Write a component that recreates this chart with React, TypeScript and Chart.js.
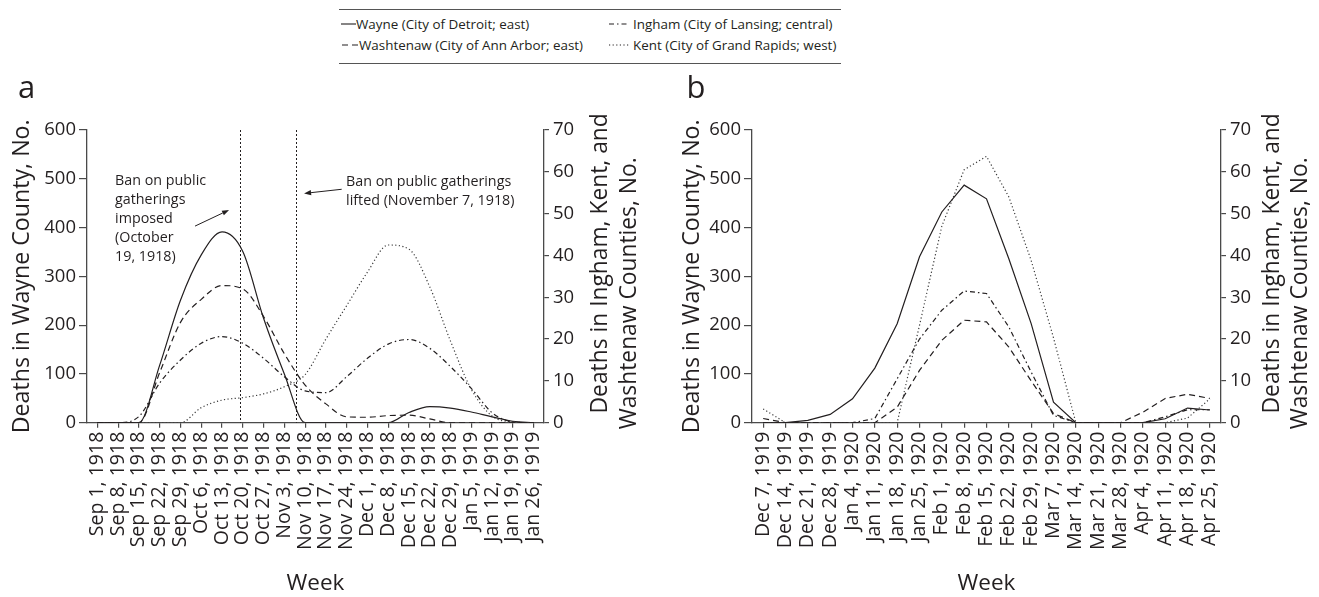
import React, { useEffect, useRef } from 'react';
import { Chart, registerables } from 'chart.js';

Chart.register(...registerables);

const FONT = '"Open Sans", "Noto Sans", sans-serif';
const INK = '#231f20';
const AXIS = '#4a4a4a';

// ---------- Panel a (fall 1918) ----------
const weeksA = ['Sep 1, 1918', 'Sep 8, 1918', 'Sep 15, 1918', 'Sep 22, 1918', 'Sep 29, 1918', 'Oct 6, 1918', 'Oct 13, 1918', 'Oct 20, 1918', 'Oct 27, 1918', 'Nov 3, 1918', 'Nov 10, 1918', 'Nov 17, 1918', 'Nov 24, 1918', 'Dec 1, 1918', 'Dec 8, 1918', 'Dec 15, 1918', 'Dec 22, 1918', 'Dec 29, 1918', 'Jan 5, 1919', 'Jan 12, 1919', 'Jan 19, 1919', 'Jan 26, 1919'];
const wayneA = [0, 0, 0, 118, 251, 344, 391, 351, 214, 100, 0, 0, 0, 0, 0, 21, 33, 30, 22, 12, 3, 0];
const washtenawA = [0, 0, 0, 12, 24, 29.5, 32.8, 32, 25.4, 16.5, 9, 4.5, 1.4, 1.3, 1.7, 1.8, 0.9, 0, 0, 0, 0, 0];
const inghamA = [0, 0, 1.5, 9.5, 15, 19, 20.6, 19, 15.4, 11, 7.6, 7.2, 11, 15.4, 18.8, 19.9, 17.8, 13.4, 8.2, 2.4, 0.2, 0];
const kentA = [0, 0, 0, 0, 0, 3.6, 5.4, 6, 6.9, 8.6, 11.5, 20, 28, 36, 42.5, 41.5, 32.5, 19.5, 8, 1.6, 0.2, 0];
// days after Sep 1, 1918: ban imposed Oct 19, lifted Nov 7
const banDaysA = [48, 67];

// ---------- Panel b (winter 1919-1920) ----------
const weeksB = ['Dec 7, 1919', 'Dec 14, 1919', 'Dec 21, 1919', 'Dec 28, 1919', 'Jan 4, 1920', 'Jan 11, 1920', 'Jan 18, 1920', 'Jan 25, 1920', 'Feb 1, 1920', 'Feb 8, 1920', 'Feb 15, 1920', 'Feb 22, 1920', 'Feb 29, 1920', 'Mar 7, 1920', 'Mar 14, 1920', 'Mar 21, 1920', 'Mar 28, 1920', 'Apr 4, 1920', 'Apr 11, 1920', 'Apr 18, 1920', 'Apr 25, 1920'];
const wayneB = [0, 0, 4.8, 17, 49, 112, 203, 340, 432, 487, 459, 336, 203, 42, 0, 0, 0, 0, 8, 30, 26];
const washtenawB = [1, 0, 0, 0, 0, 0, 3.7, 12.5, 19.7, 24.5, 24.1, 18.1, 10, 2.2, 0, 0, 0, 2.5, 5.8, 6.8, 5.8];
const inghamB = [0, 0, 0, 0, 0, 1, 10.5, 20, 26.9, 31.5, 30.9, 22.9, 12.1, 1.75, 0, 0, 0, 0, 1.4, 3.1, 3.1];
const kentB = [3.3, 0, 0, 0, 0, 0, 0, 23.3, 47, 60.5, 63.7, 54, 38.8, 20.3, 0, 0, 0, 0, 0, 1.1, 5.7];

// ---------- Axes ----------
const leftTicks = [0, 100, 200, 300, 400, 500, 600];
const rightTicks = [0, 10, 20, 30, 40, 50, 60, 70];

const seriesNames = ['Wayne (City of Detroit; east)', 'Washtenaw (City of Ann Arbor; east)', 'Ingham (City of Lansing; central)', 'Kent (City of Grand Rapids; west)'];
const seriesDash = [[], [6, 4], [5, 3, 1.5, 3], [1.2, 2.4]];

const leftTitle = 'Deaths in Wayne County, No.';
const rightTitle = ['Deaths in Ingham, Kent, and', 'Washtenaw Counties, No.'];

const annImposed = ['Ban on public', 'gatherings', 'imposed', '(October', '19, 1918)'];
const annLifted = ['Ban on public gatherings', 'lifted (November 7, 1918)'];

type PanelCfg = {
  labels: string[];
  series: number[][];
  smooth: boolean;
  yLeftWidth: number;
  yRightWidth: number;
  xHeight: number;
  padTop: number;
  leftTitlePad: number;
  rightTitleDx: [number, number];
  letter: string;
  letterX: number;
  ban?: number[];
  notes?: boolean;
};

function drawArrow(ctx: CanvasRenderingContext2D, x1: number, y1: number, x2: number, y2: number) {
  const ang = Math.atan2(y2 - y1, x2 - x1);
  const L = 7, W = 2.6;
  const bx = x2 - L * Math.cos(ang), by = y2 - L * Math.sin(ang);
  ctx.setLineDash([]);
  ctx.lineWidth = 1;
  ctx.strokeStyle = INK;
  ctx.fillStyle = INK;
  ctx.beginPath();
  ctx.moveTo(x1, y1);
  ctx.lineTo(bx, by);
  ctx.stroke();
  ctx.beginPath();
  ctx.moveTo(x2, y2);
  ctx.lineTo(bx + W * Math.sin(ang), by - W * Math.cos(ang));
  ctx.lineTo(bx - W * Math.sin(ang), by + W * Math.cos(ang));
  ctx.closePath();
  ctx.fill();
}

function makeOverlay(p: PanelCfg) {
  return {
    id: 'overlay',
    afterDatasetsDraw(chart: any) {
      const { ctx, chartArea, scales } = chart;
      const xs = scales.x, ys = scales.y;
      ctx.save();
      // panel letter
      ctx.fillStyle = INK;
      ctx.font = `31px ${FONT}`;
      ctx.textAlign = 'left';
      ctx.textBaseline = 'alphabetic';
      ctx.fillText(p.letter, p.letterX, chartArea.top - 31.7);

      // right axis title (reads bottom-to-top)
      ctx.font = `22.8px ${FONT}`;
      ctx.textAlign = 'center';
      ctx.textBaseline = 'middle';
      const midY = (chartArea.top + chartArea.bottom) / 2;
      const dys = [-13, 17];
      rightTitle.forEach((t, k) => {
        ctx.save();
        ctx.translate(chartArea.right + p.rightTitleDx[k], midY + dys[k]);
        ctx.rotate(-Math.PI / 2);
        ctx.fillText(t, 0, 0);
        ctx.restore();
      });

      // ban lines
      (p.ban || []).forEach((d) => {
        const px = Math.round(xs.getPixelForValue(d / 7)) + 0.5;
        ctx.setLineDash([2, 2]);
        ctx.lineWidth = 1;
        ctx.strokeStyle = INK;
        ctx.beginPath();
        ctx.moveTo(px, chartArea.top);
        ctx.lineTo(px, chartArea.bottom);
        ctx.stroke();
      });

      if (p.notes) {
        ctx.setLineDash([]);
        ctx.fillStyle = INK;
        ctx.font = `14.3px ${FONT}`;
        ctx.textAlign = 'left';
        ctx.textBaseline = 'middle';
        const x1 = xs.getPixelForValue(0.85), y1 = ys.getPixelForValue(496);
        annImposed.forEach((t, k) => ctx.fillText(t, x1, y1 + k * 19));
        const x2 = xs.getPixelForValue(11.97), y2 = ys.getPixelForValue(493);
        annLifted.forEach((t, k) => ctx.fillText(t, x2, y2 + k * 19));
        drawArrow(ctx, xs.getPixelForValue(4.7), ys.getPixelForValue(403), xs.getPixelForValue(6.34), ys.getPixelForValue(436));
        drawArrow(ctx, xs.getPixelForValue(11.76), ys.getPixelForValue(478.5), xs.getPixelForValue(9.95), ys.getPixelForValue(470));
      }
      ctx.restore();
    },
  };
}

function buildConfig(p: PanelCfg): any {
  const datasets = p.series.map((data, k) => ({
    label: seriesNames[k],
    data,
    yAxisID: k === 0 ? 'y' : 'y1',
    borderColor: k === 3 ? '#3a3a3a' : INK,
    borderWidth: 1.2,
    borderDash: seriesDash[k],
    pointRadius: 0,
    fill: false,
    tension: p.smooth ? 0.4 : 0,
    cubicInterpolationMode: p.smooth ? 'monotone' : 'default',
  }));
  const tickFont = { family: FONT, size: 18.5 };
  return {
    type: 'line',
    data: { labels: p.labels, datasets },
    options: {
      animation: false,
      responsive: false,
      maintainAspectRatio: false,
      layout: { padding: { top: p.padTop, left: 0, right: 0, bottom: 0 } },
      plugins: { legend: { display: false }, tooltip: { enabled: false } },
      scales: {
        x: {
          type: 'category',
          offset: true,
          grid: { display: true, drawOnChartArea: false, offset: false, tickLength: 5, color: AXIS, lineWidth: 1.2 },
          border: { display: true, color: AXIS, width: 1.3 },
          ticks: { autoSkip: false, minRotation: 90, maxRotation: 90, padding: 4, color: INK, font: { family: FONT, size: 19.5 } },
          title: { display: true, text: 'Week', color: INK, font: { family: FONT, size: 22.5 }, padding: { top: 0, bottom: 0 } },
          afterFit: (s: any) => { s.height = p.xHeight; },
        },
        y: {
          position: 'left',
          min: 0,
          max: 600,
          afterBuildTicks: (s: any) => { s.ticks = leftTicks.map((v) => ({ value: v })); },
          grid: { display: true, drawOnChartArea: false, tickLength: 8, color: AXIS, lineWidth: 1.2 },
          border: { display: true, color: AXIS, width: 1.3 },
          ticks: { padding: 3, color: INK, font: tickFont },
          title: { display: true, text: leftTitle, color: INK, font: { family: FONT, size: 23.2 }, padding: { top: p.leftTitlePad, bottom: 0 } },
          afterFit: (s: any) => { s.width = p.yLeftWidth; },
        },
        y1: {
          position: 'right',
          min: 0,
          max: 70,
          afterBuildTicks: (s: any) => { s.ticks = rightTicks.map((v) => ({ value: v })); },
          grid: { display: true, drawOnChartArea: false, tickLength: 5, color: AXIS, lineWidth: 1.2 },
          border: { display: true, color: AXIS, width: 1.3 },
          ticks: { padding: 4, color: INK, font: tickFont },
          afterFit: (s: any) => { s.width = p.yRightWidth; },
        },
      },
    },
    plugins: [makeOverlay(p)],
  };
}

function Panel({ left, top, width, height, cfg }: { left: number; top: number; width: number; height: number; cfg: PanelCfg }) {
  const ref = useRef<HTMLCanvasElement>(null);
  useEffect(() => {
    const chart = new Chart(ref.current as HTMLCanvasElement, buildConfig(cfg));
    return () => chart.destroy();
  }, []);
  return <canvas ref={ref} width={width} height={height} style={{ position: 'absolute', left, top, width, height }} />;
}

const legendItems = [
  { k: 0, x: 341, w: 15, tx: 356, y: 23.5 },
  { k: 2, x: 609, w: 19, tx: 633, y: 23.5 },
  { k: 1, x: 342, w: 17, tx: 359, y: 44.5 },
  { k: 3, x: 609, w: 21, tx: 633, y: 44.5 },
];

function Legend() {
  return (
    <>
      <div style={{ position: 'absolute', left: 339, top: 9, width: 502, borderTop: '1.5px solid #555' }} />
      <div style={{ position: 'absolute', left: 339, top: 62.5, width: 502, borderTop: '1.5px solid #555' }} />
      {legendItems.map((it) => (
        <React.Fragment key={it.k}>
          <svg style={{ position: 'absolute', left: it.x, top: it.y - 5 }} width={it.w} height={10}>
            <line x1={0} y1={5} x2={it.w} y2={5} stroke={INK} strokeWidth={1.1} strokeDasharray={seriesDash[it.k].join(' ') || undefined} />
          </svg>
          <div style={{ position: 'absolute', left: it.tx, top: it.y - 9, height: 18, lineHeight: '18px', fontFamily: FONT, fontSize: 13.4, color: INK, whiteSpace: 'nowrap' }}>
            {seriesNames[it.k]}
          </div>
        </React.Fragment>
      ))}
    </>
  );
}

const cfgA: PanelCfg = {
  labels: weeksA,
  series: [wayneA, washtenawA, inghamA, kentA],
  smooth: true,
  yLeftWidth: 87,
  yRightWidth: 136,
  xHeight: 174.3,
  padTop: 70,
  leftTitlePad: 8.2,
  rightTitleDx: [57, 86],
  letter: 'a',
  letterX: 18,
  ban: banDaysA,
  notes: true,
};

const cfgB: PanelCfg = {
  labels: weeksB,
  series: [wayneB, washtenawB, inghamB, kentB],
  smooth: false,
  yLeftWidth: 92,
  yRightWidth: 98,
  xHeight: 174.3,
  padTop: 70,
  leftTitlePad: 18.2,
  rightTitleDx: [52, 80],
  letter: 'b',
  letterX: 26.5,
};

export default function App() {
  return (
    <div style={{ position: 'fixed', left: 0, top: 0, width: 1319, height: 597, background: '#fff', overflow: 'hidden' }}>
      <Legend />
      <Panel left={0} top={60} width={680} height={537} cfg={cfgA} />
      <Panel left={660} top={60} width={659} height={537} cfg={cfgB} />
    </div>
  );
}
